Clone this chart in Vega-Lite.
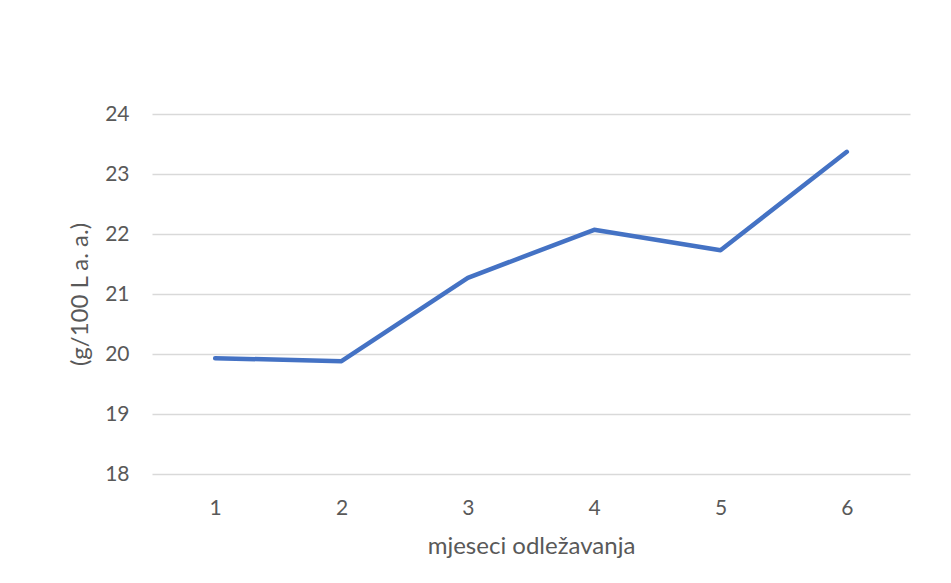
{
  "$schema": "https://vega.github.io/schema/vega-lite/v6.json",
  "width": 758,
  "height": 360,
  "autosize": {"type": "none"},
  "padding": {"left": 152, "top": 114, "right": 41, "bottom": 109},
  "background": "white",
  "config": {
    "view": {"stroke": null},
    "font": "Lato",
    "axis": {"labelFont": "Lato", "titleFont": "Lato", "labelColor": "#595959", "titleColor": "#595959", "titleFontWeight": "normal"}
  },
  "data": {
    "values": [
      {"mjesec": "1", "vrijednost": 19.93},
      {"mjesec": "2", "vrijednost": 19.88},
      {"mjesec": "3", "vrijednost": 21.27},
      {"mjesec": "4", "vrijednost": 22.07},
      {"mjesec": "5", "vrijednost": 21.73},
      {"mjesec": "6", "vrijednost": 23.37}
    ]
  },
  "mark": {"type": "line", "color": "#4472C4", "strokeWidth": 4.5, "strokeCap": "round", "strokeJoin": "round"},
  "encoding": {
    "x": {
      "field": "mjesec",
      "type": "ordinal",
      "scale": {"type": "point", "padding": 0.5},
      "axis": {
        "title": "mjeseci odležavanja",
        "labelAngle": 0,
        "labelFontSize": 21,
        "titleFontSize": 24,
        "domain": false,
        "ticks": false,
        "tickSize": 0,
        "labelPadding": 23,
        "titlePadding": 16,
        "grid": false
      }
    },
    "y": {
      "field": "vrijednost",
      "type": "quantitative",
      "scale": {"domain": [18, 24], "nice": false, "zero": false},
      "axis": {
        "title": "(g/100 L a. a.)",
        "values": [18, 19, 20, 21, 22, 23, 24],
        "labelFontSize": 21,
        "titleFontSize": 24,
        "domain": false,
        "ticks": false,
        "tickSize": 0,
        "labelPadding": 23,
        "titlePadding": 12,
        "grid": true,
        "gridColor": "#d9d9d9",
        "gridWidth": 1.3
      }
    }
  }
}
